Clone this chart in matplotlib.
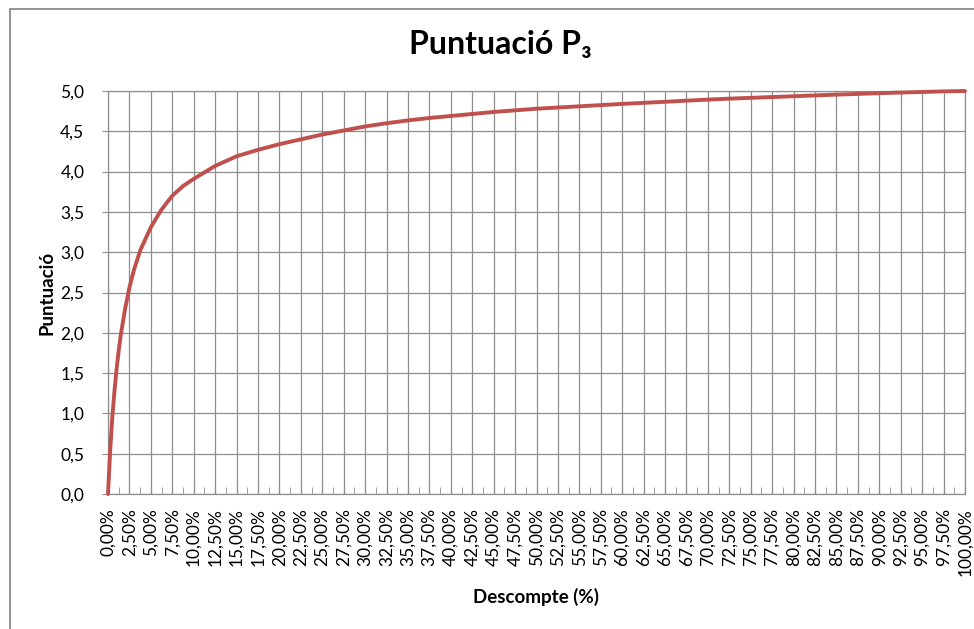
import matplotlib
matplotlib.use("Agg")
import matplotlib.pyplot as plt
from matplotlib.patches import Rectangle
from matplotlib.ticker import FixedLocator, FuncFormatter
import numpy as np

plt.rcParams["font.family"] = ["Lato", "DejaVu Sans"]

# Descompte (%) and the score
descompte = [0, 0.25, 0.5, 0.75, 1.0, 1.25, 1.5, 2.0, 2.5, 3.0, 3.75,
             5.0, 6.25, 7.5, 8.75, 10.0,
             12.5, 15.0, 17.5, 20.0, 22.5, 25.0, 27.5, 30.0, 32.5, 35.0,
             37.5, 40.0, 42.5, 45.0, 47.5, 50.0, 52.5, 55.0, 57.5, 60.0,
             62.5, 65.0, 67.5, 70.0, 72.5, 75.0, 77.5, 80.0, 82.5, 85.0,
             87.5, 90.0, 92.5, 95.0, 97.5, 100.0]
puntuacio = [0, 0.53, 0.95, 1.27, 1.55, 1.78, 1.98, 2.30, 2.56, 2.77, 3.02,
             3.31, 3.53, 3.70, 3.82, 3.91,
             4.07, 4.19, 4.27, 4.34, 4.40, 4.46, 4.51, 4.56, 4.60, 4.635,
             4.665, 4.69, 4.715, 4.74, 4.76, 4.78, 4.795, 4.81, 4.825, 4.84,
             4.853, 4.866, 4.88, 4.893, 4.905, 4.915, 4.925, 4.935, 4.945, 4.955,
             4.964, 4.973, 4.981, 4.988, 4.995, 5.0]

x_ticks = np.arange(0, 100.01, 2.5)
x_labels = [f"{v:.2f}%".replace(".", ",") for v in x_ticks]
y_ticks = np.arange(0, 5.01, 0.5)

grid_col = "#8f8f8f"
line_col = "#C0504D"

fig = plt.figure(figsize=(9.74, 6.29), dpi=100)
ax = fig.add_axes([108 / 974, 1 - 494 / 629, (965 - 108) / 974, (494 - 91) / 629])

ax.plot(descompte, puntuacio, color=line_col, lw=2.8, solid_joinstyle="round",
        solid_capstyle="round", zorder=3, clip_on=False)

ax.set_xlim(0, 100)
ax.set_ylim(0, 5)
ax.xaxis.set_major_locator(FixedLocator(x_ticks))
ax.xaxis.set_minor_locator(FixedLocator(x_ticks[:-1] + 1.25))
ax.set_xticklabels(x_labels, rotation=90, fontsize=12.5)
ax.yaxis.set_major_locator(FixedLocator(y_ticks))
ax.yaxis.set_major_formatter(FuncFormatter(lambda v, p: f"{v:.1f}".replace(".", ",")))

ax.grid(True, which="major", color=grid_col, lw=0.9)
ax.set_axisbelow(True)
for s in ax.spines.values():
    s.set_color(grid_col)
    s.set_linewidth(0.9)

ax.tick_params(axis="x", which="both", direction="in", length=5, color=grid_col, pad=10)
ax.tick_params(axis="y", direction="out", length=4, color=grid_col, labelsize=12.5, pad=13)

fig.text(46.5 / 974, 1 - 293 / 629, "Puntuació", rotation=90, ha="center", va="center",
         fontsize=13.5, fontweight="bold")
fig.text(536 / 974, 1 - 597 / 629, "Descompte (%)", ha="center", va="center",
         fontsize=13.5, fontweight="bold")
fig.text(500 / 974, 1 - 54 / 629, "Puntuació P₃", ha="center", va="baseline",
         fontsize=23, fontweight="bold")

# outer chart frame (cropped on the right and bottom)
fig.patches.append(Rectangle((9.5 / 974, -0.1), 1.0, 1.1 - 8.5 / 629, transform=fig.transFigure,
                             fill=False, edgecolor="#8a8a8a", lw=1.3))

fig.savefig("out.png", dpi=100)
